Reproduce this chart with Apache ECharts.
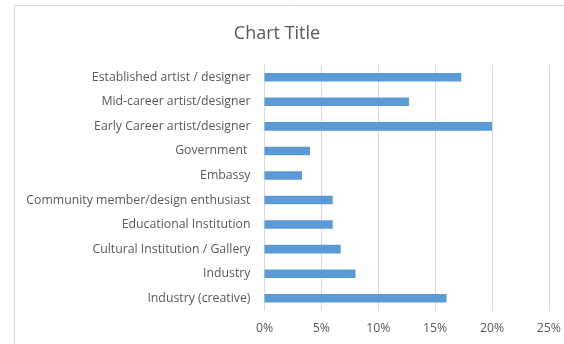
<!DOCTYPE html>
<html>
<head>
<meta charset="utf-8">
<script src="https://cdn.jsdelivr.net/npm/echarts@6/dist/echarts.min.js"></script>
<style>html,body{margin:0;padding:0;background:#fff}#c{width:564px;height:344px}</style>
</head>
<body>
<div id="c"></div>
<script>
const categories = [
  "Established artist / designer",
  "Mid-career artist/designer",
  "Early Career artist/designer",
  "Government ",
  "Embassy",
  "Community member/design enthusiast",
  "Educational Institution",
  "Cultural Institution / Gallery",
  "Industry",
  "Industry (creative)"
];
const values = [17.3, 12.7, 20.0, 4.0, 3.3, 6.0, 6.0, 6.7, 8.0, 16.0];
const xTicks = [0, 5, 10, 15, 20, 25];

const chart = echarts.init(document.getElementById('c'), null, {renderer: 'canvas'});
const font = '"Open Sans", sans-serif';
chart.setOption({
  animation: false,
  backgroundColor: '#fff',
  title: {
    text: 'Chart Title',
    left: 272, top: 20, textAlign: 'center',
    textStyle: {fontFamily: font, fontSize: 18, fontWeight: 'normal', color: '#595959'}
  },
  graphic: [{
    type: 'rect', silent: true, z: -1,
    shape: {x: 14.5, y: 5.5, width: 700, height: 500},
    style: {fill: 'none', stroke: '#d9d9d9', lineWidth: 1}
  }],
  grid: {left: 264.5, right: 11.5, top: 65, bottom: 33.5, containLabel: false},
  xAxis: {
    type: 'value', min: xTicks[0], max: xTicks[xTicks.length - 1], interval: 5,
    axisLine: {show: false}, axisTick: {show: false},
    splitLine: {show: true, lineStyle: {color: '#d9d9d9', width: 1}},
    axisLabel: {formatter: '{value}%', margin: 12, fontFamily: font, fontSize: 12.3, color: '#595959'}
  },
  yAxis: {
    type: 'category', data: categories, inverse: true,
    axisLine: {show: true, lineStyle: {color: '#d9d9d9'}},
    axisTick: {show: false},
    axisLabel: {margin: 14, fontFamily: font, fontSize: 12.3, color: '#595959'}
  },
  series: [{
    type: 'bar', data: values, barWidth: '35%',
    itemStyle: {color: '#5b9bd5'}
  }]
});
</script>
</body>
</html>
